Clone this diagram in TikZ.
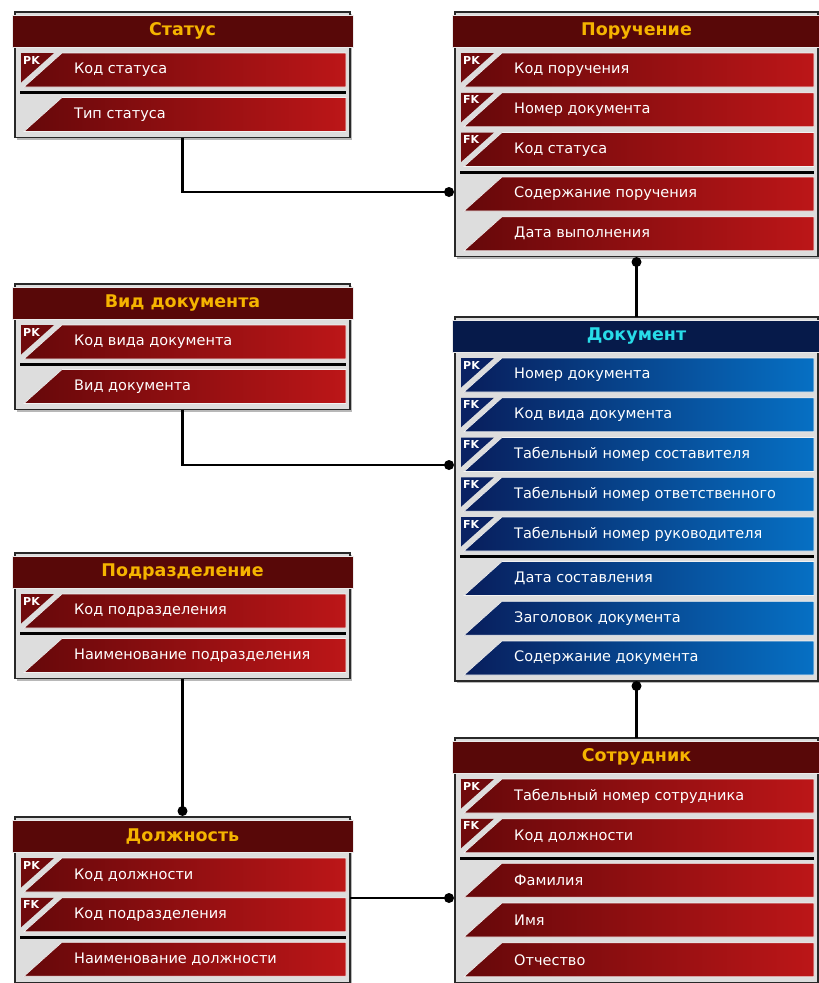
\documentclass[tikz,border=0pt]{standalone}
\usepackage{fontspec}
\setmainfont{DejaVu Sans}
\usetikzlibrary{shadows}

% palette
\definecolor{redL}{RGB}{102,8,10}
\definecolor{redR}{RGB}{188,22,24}
\definecolor{redK}{RGB}{112,10,12}
\definecolor{redT}{RGB}{88,8,8}
\definecolor{redText}{RGB}{245,180,0}
\definecolor{blueL}{RGB}{8,30,92}
\definecolor{blueR}{RGB}{6,112,196}
\definecolor{blueK}{RGB}{10,34,100}
\definecolor{blueT}{RGB}{6,26,74}
\definecolor{blueText}{RGB}{40,220,232}
\definecolor{boxgray}{RGB}{221,221,221}
\definecolor{edge}{RGB}{40,40,40}

\tikzset{
  erbox/.style={rectangle, draw=edge, line width=1.4pt, fill=boxgray, inner sep=0pt, outer sep=0pt,
    drop shadow={shadow xshift=2pt, shadow yshift=-2pt, opacity=0.28, fill=black}},
  ertitle/.style={rectangle, draw=white!92!black, line width=1pt, minimum height=32pt, inner sep=0pt,
    font=\fontsize{17.5}{19}\selectfont\bfseries},
  erbar/.style={draw=white!95!black, line width=0.6pt},
  erkeylbl/.style={inner sep=0pt, text=white, font=\fontsize{11}{12}\selectfont\bfseries},
  ertext/.style={inner sep=0pt, text=white, font=\fontsize{14.5}{16}\selectfont},
  conn/.style={line width=2.2pt, black},
  erdot/.style={circle, fill=black, minimum size=10pt, inner sep=0pt},
}

% table drawing helpers
\newcount\erN
\newcommand\erhead[7]{% name, left, right, title top, rows, title, theme
  \def\erName{#1}\def\erTheme{#7}\global\erN=0
  \pgfmathsetmacro\erL{#2+6}%
  \pgfmathsetmacro\erR{#3-4}%
  \pgfmathsetmacro\erH{85.75+39.75*(#5-1)}%
  \pgfmathsetmacro\erW{#3-#2}%
  \pgfmathsetmacro\erTW{#3-#2+6}%
  \pgfmathsetmacro\erCX{(#2+#3)/2}%
  \pgfmathsetmacro\erCY{#4-3+\erH/2}%
  \node[erbox, minimum width=\erW pt, minimum height=\erH pt] (#1) at (\erCX,\erCY) {};
  \node[ertitle, fill=#7T, text=#7Text, minimum width=\erTW pt] (#1-title) at (\erCX,#4+16) {#6};
  \pgfmathsetmacro\erY{#4+38}%
}
\newcommand\erbarpath[1]{%
  \shadedraw[erbar, left color=\erTheme L, right color=\erTheme R]
    (\erL+41,\erY) -- (\erR,\erY) -- (\erR,\erY+34) -- (\erL+3,\erY+34) -- cycle;
  \node[ertext, anchor=west] (\erName-r\the\erN) at (\erL+53,\erY+17) {#1};
  \pgfmathsetmacro\erY{\erY+39.75}%
}
\newcommand\erkey[2]{% key mark, field
  \global\advance\erN by 1
  \fill[\erTheme K] (\erL,\erY) -- (\erL+33,\erY) -- (\erL,\erY+29.5) -- cycle;
  \node[erkeylbl, anchor=north west] (\erName-k\the\erN) at (\erL+2,\erY+3) {#1};
  \erbarpath{#2}%
}
\newcommand\erplain[1]{\global\advance\erN by 1 \erbarpath{#1}}
\newcommand\ersep{%
  \draw[line width=3pt, black] (\erL-1,\erY-0.25) -- (\erR,\erY-0.25);
  \pgfmathsetmacro\erY{\erY+4.75}%
}

\begin{document}
\begin{tikzpicture}[x=1pt,y=-1pt]
\useasboundingbox (0,0) rectangle (819,983);
\fill[white] (0,0) rectangle (819,983);

\erhead{status}{15}{350}{15}{2}{Статус}{red}
\erkey{PK}{Код статуса}
\ersep
\erplain{Тип статуса}

\erhead{poruch}{455}{818}{15}{5}{Поручение}{red}
\erkey{PK}{Код поручения}
\erkey{FK}{Номер документа}
\erkey{FK}{Код статуса}
\ersep
\erplain{Содержание поручения}
\erplain{Дата выполнения}

\erhead{vid}{15}{350}{287}{2}{Вид документа}{red}
\erkey{PK}{Код вида документа}
\ersep
\erplain{Вид документа}

\erhead{doc}{455}{818}{320}{8}{Документ}{blue}
\erkey{PK}{Номер документа}
\erkey{FK}{Код вида документа}
\erkey{FK}{Табельный номер составителя}
\erkey{FK}{Табельный номер ответственного}
\erkey{FK}{Табельный номер руководителя}
\ersep
\erplain{Дата составления}
\erplain{Заголовок документа}
\erplain{Содержание документа}

\erhead{podr}{15}{350}{556}{2}{Подразделение}{red}
\erkey{PK}{Код подразделения}
\ersep
\erplain{Наименование подразделения}

\erhead{dolzh}{15}{350}{820}{3}{Должность}{red}
\erkey{PK}{Код должности}
\erkey{FK}{Код подразделения}
\ersep
\erplain{Наименование должности}

\erhead{sotr}{455}{818}{741}{5}{Сотрудник}{red}
\erkey{PK}{Табельный номер сотрудника}
\erkey{FK}{Код должности}
\ersep
\erplain{Фамилия}
\erplain{Имя}
\erplain{Отчество}

% relationships
\coordinate (d1) at (449,192);
\coordinate (d2) at (636.5,262);
\coordinate (d3) at (449,465);
\coordinate (d4) at (636.5,686);
\coordinate (d5) at (182.5,811);
\coordinate (d6) at (449,898);

\draw[conn] (status.south) |- (d1);
\draw[conn] (d2) -- (doc.north);
\draw[conn] (vid.south) |- (d3);
\draw[conn] (d4) -- (sotr.north);
\draw[conn] (podr.south) -- (d5);
\draw[conn] (dolzh.east |- d6) -- (d6);

\node[erdot] (dot1) at (d1) {};
\node[erdot] (dot2) at (d2) {};
\node[erdot] (dot3) at (d3) {};
\node[erdot] (dot4) at (d4) {};
\node[erdot] (dot5) at (d5) {};
\node[erdot] (dot6) at (d6) {};
\end{tikzpicture}
\end{document}
